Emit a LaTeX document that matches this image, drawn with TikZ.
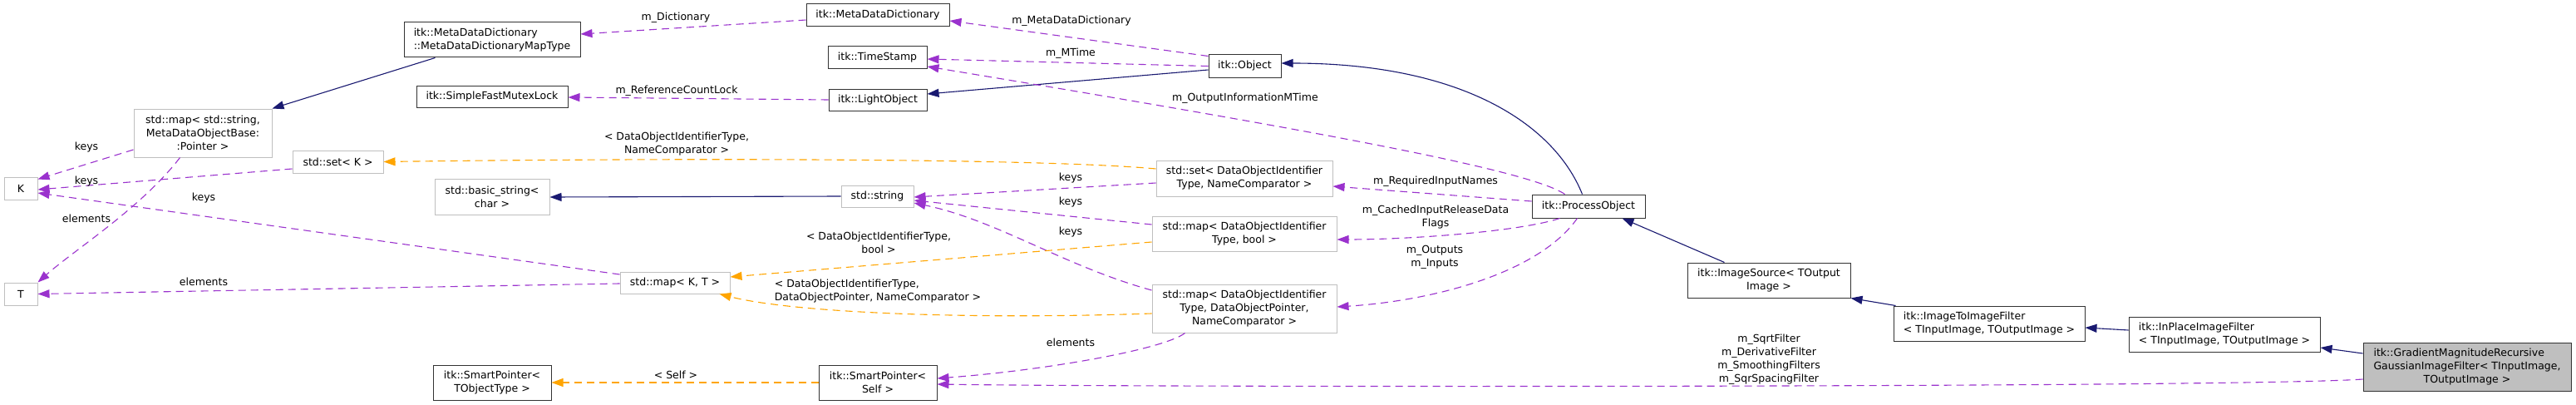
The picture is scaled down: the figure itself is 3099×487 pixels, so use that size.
\documentclass[tikz,border=0pt]{standalone}
\usepackage{fontspec}
\setmainfont{DejaVu Sans}
\usetikzlibrary{arrows.meta,calc}
\newcommand\dfsz{\fontsize{12.5}{16}\selectfont}
\definecolor{navy}{HTML}{191970}
\definecolor{purp}{HTML}{9A32CD}
\definecolor{orng}{HTML}{FFA500}
\definecolor{gfill}{HTML}{BFBFBF}
\begin{document}
\begin{tikzpicture}[x=1pt,y=-1pt,
  cls/.style={draw=black!80, line width=1pt, inner sep=0pt, font=\dfsz, align=center, fill=white},
  ext/.style={cls, draw=black!25},
  inh/.style={navy, line width=1.1pt, -{Triangle[length=14pt,width=10pt]}},
  use/.style={purp, line width=1.1pt, dash pattern=on 9pt off 6pt, -{Triangle[length=14pt,width=10pt]}},
  tmpl/.style={orng, line width=1.1pt, dash pattern=on 9pt off 6pt, -{Triangle[length=14pt,width=10pt]}},
  lbl/.style={font=\dfsz, inner sep=0pt, align=center}]
\useasboundingbox (0,0) rectangle (3099,487);

% nodes
\node[ext,minimum width=40pt,minimum height=27pt] (K) at (25,226.5) {K};
\node[ext,minimum width=40pt,minimum height=27pt] (T) at (25,353.5) {T};
\node[ext,minimum width=166pt,minimum height=58pt] (mapstr) at (244,160) {std::map< std::string,\\MetaDataObjectBase:\\:Pointer >};
\node[ext,minimum width=109pt,minimum height=27pt] (setK) at (406.5,194.5) {std::set< K >};
\node[cls,align=left,minimum width=212pt,minimum height=42pt] (mapType) at (592,48) {itk::MetaDataDictionary\\::MetaDataDictionaryMapType};
\node[cls,minimum width=182pt,minimum height=26pt] (mutex) at (592,116) {itk::SimpleFastMutexLock};
\node[ext,minimum width=138pt,minimum height=43pt] (basicstr) at (592,236.5) {std::basic\_string<\\char >};
\node[ext,minimum width=132pt,minimum height=26pt] (mapKT) at (812,340) {std::map< K, T >};
\node[cls,minimum width=142pt,minimum height=42pt] (spTO) at (592,460) {itk::SmartPointer<\\TObjectType >};
\node[cls,minimum width=172pt,minimum height=27pt] (mdd) at (1056,18.5) {itk::MetaDataDictionary};
\node[cls,minimum width=119pt,minimum height=26pt] (ts) at (1055.5,69) {itk::TimeStamp};
\node[cls,minimum width=118pt,minimum height=26pt] (lo) at (1056,120) {itk::LightObject};
\node[cls,minimum width=87pt,minimum height=27pt] (obj) at (1497.5,79.5) {itk::Object};
\node[ext,minimum width=212pt,minimum height=43pt] (setDOI) at (1497,214.5) {std::set< DataObjectIdentifier\\Type, NameComparator >};
\node[ext,minimum width=87pt,minimum height=26pt] (str) at (1055.5,236) {std::string};
\node[ext,minimum width=222pt,minimum height=42pt] (mapBool) at (1497,281) {std::map< DataObjectIdentifier\\Type, bool >};
\node[ext,minimum width=222pt,minimum height=58pt] (mapDOP) at (1497,371) {std::map< DataObjectIdentifier\\Type, DataObjectPointer,\\NameComparator >};
\node[cls,minimum width=142pt,minimum height=42pt] (spSelf) at (1056,460) {itk::SmartPointer<\\Self >};
\node[cls,minimum width=136pt,minimum height=28pt] (po) at (1911,248) {itk::ProcessObject};
\node[cls,minimum width=196pt,minimum height=42pt] (is) at (2128,337) {itk::ImageSource< TOutput\\Image >};
\node[cls,align=left,minimum width=230pt,minimum height=42pt] (i2i) at (2393,389) {itk::ImageToImageFilter\\< TInputImage, TOutputImage >};
\node[cls,align=left,minimum width=230pt,minimum height=42pt] (inplace) at (2676,402) {itk::InPlaceImageFilter\\< TInputImage, TOutputImage >};
\node[cls,fill=gfill,minimum width=250pt,minimum height=58pt] (grad) at (2968,441) {\begin{tabular}{@{}l@{}}itk::GradientMagnitudeRecursive\\GaussianImageFilter< TInputImage,\\\multicolumn{1}{@{}c@{}}{TOutputImage >}\end{tabular}};

% connectors
\draw[inh] ($(mapType.south west)+(38,0)$) -- (mapstr.north east);
\draw[use] ($(mdd.west)+(0,5.5)$) -- ($(mapType.east)+(0,-7)$);
\draw[use] ($(obj.north west)+(0,2)$) -- ($(mdd.east)+(0,6.5)$);
\draw[use] (obj.west) -- ($(ts.east)+(0,2)$);
\draw[inh] ($(obj.west)+(0,4.5)$) -- ($(lo.east)+(0,-7)$);
\draw[use] (lo.west) -- ($(mutex.east)+(0,1)$);
\draw[use] ($(po.north west)+(40,0)$) .. controls (1840,205) and (1600,160) .. ($(ts.east)+(0,11)$);
\draw[inh] ($(po.north west)+(61,0)$) .. controls (1870,150) and (1760,76) .. ($(obj.east)+(0,-3.5)$);
\draw[use] ($(po.west)+(0,-6)$) -- ($(setDOI.east)+(0,9.5)$);
\draw[use] ($(po.south west)+(34,0)$) .. controls (1830,278) and (1700,288) .. ($(mapBool.east)+(0,7)$);
\draw[use] ($(po.south west)+(55,0)$) .. controls (1850,330) and (1720,362) .. ($(mapDOP.east)+(0,-2)$);
\draw[inh] ($(is.north west)+(45,0)$) -- ($(po.south west)+(109,0)$);
\draw[inh] ($(i2i.north west)+(3,0)$) -- (is.south east);
\draw[inh] ($(inplace.west)+(0,-5)$) -- ($(i2i.east)+(0,5)$);
\draw[inh] ($(grad.west)+(0,-16)$) -- ($(inplace.east)+(0,16)$);
\draw[use] ($(grad.west)+(0,15)$) .. controls (2700,466) and (1400,466) .. ($(spSelf.east)+(0,2)$);
\draw[tmpl] (spSelf.west) -- (spTO.east);
\draw[use] ($(mapDOP.south west)+(40,0)$) .. controls (1400,420) and (1260,445) .. ($(spSelf.east)+(0,-5)$);
\draw[use] ($(setDOI.west)+(0,5.5)$) -- ($(str.east)+(0,1)$);
\draw[use] ($(mapBool.west)+(0,-11)$) -- ($(str.east)+(0,5)$);
\draw[use] ($(mapDOP.west)+(0,-22)$) .. controls (1280,320) and (1200,265) .. ($(str.east)+(0,8)$);
\draw[tmpl] ($(setDOI.west)+(0,-11.5)$) .. controls (1250,190) and (800,190) .. (setK.east);
\draw[tmpl] ($(mapBool.west)+(0,10)$) -- ($(mapKT.east)+(0,-7)$);
\draw[tmpl] ($(mapDOP.west)+(0,6)$) .. controls (1150,385) and (950,375) .. ($(mapKT.south east)+(-13,0)$);
\draw[inh] (str.west) -- ($(basicstr.east)+(0,0.5)$);
\draw[use] ($(mapKT.west)+(0,-10)$) -- ($(K.east)+(0,5.5)$);
\draw[use] ($(mapKT.west)+(0,1)$) -- (T.east);
\draw[use] ($(setK.west)+(0,8.5)$) -- ($(K.east)+(0,1.5)$);
\draw[use] ($(mapstr.west)+(0,20)$) -- ($(K.north east)+(0,3)$);
\draw[use] ($(mapstr.south west)+(56,0)$) .. controls (170,250) and (90,300) .. (T.north east);

% labels
\node[lbl] (l1) at (104,177) {keys};
\node[lbl] (l2) at (104,218) {keys};
\node[lbl] (l3) at (245,238) {keys};
\node[lbl] (l4) at (104,263) {elements};
\node[lbl] (l5) at (245,339) {elements};
\node[lbl] (l6) at (813,21) {m\_Dictionary};
\node[lbl] (l7) at (814,109) {m\_ReferenceCountLock};
\node[lbl] (l8) at (814,173) {< DataObjectIdentifierType,\\NameComparator >};
\node[lbl] (l9) at (813,451) {< Self >};
\node[lbl] (l10) at (1289,25) {m\_MetaDataDictionary};
\node[lbl] (l11) at (1288,64) {m\_MTime};
\node[lbl] (l12) at (1498,118) {m\_OutputInformationMTime};
\node[lbl] (l13) at (1288,214) {keys};
\node[lbl] (l14) at (1288,243) {keys};
\node[lbl] (l15) at (1288,279) {keys};
\node[lbl] (l16) at (1057,291.5) {< DataObjectIdentifierType,\\bool >};
\node[lbl,align=left] (l17) at (1056,350.5) {< DataObjectIdentifierType,\\DataObjectPointer, NameComparator >};
\node[lbl] (l18) at (1288,412) {elements};
\node[lbl] (l19) at (1727,218) {m\_RequiredInputNames};
\node[lbl] (l20) at (1727,261) {m\_CachedInputReleaseData\\Flags};
\node[lbl] (l21) at (1726,309) {m\_Outputs\\m\_Inputs};
\node[lbl] (l22) at (2128,432) {m\_SqrtFilter\\m\_DerivativeFilter\\m\_SmoothingFilters\\m\_SqrSpacingFilter};
\end{tikzpicture}
\end{document}
